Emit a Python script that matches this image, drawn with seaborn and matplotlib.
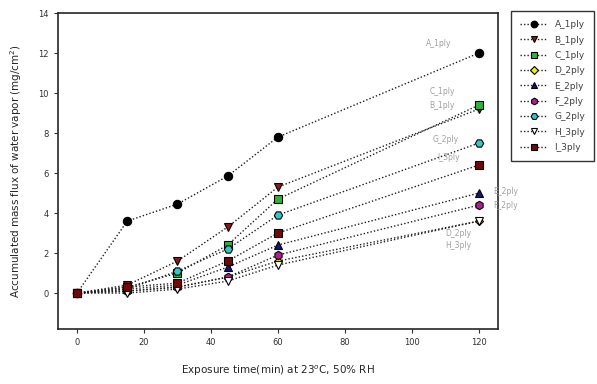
import pandas as pd
import matplotlib
matplotlib.use("Agg")
import matplotlib.pyplot as plt
import seaborn as sns

# exposure times (min)
time_min = [0, 15, 30, 45, 60, 120]

# accumulated mass flux of water vapor (mg/cm2)
a_1ply = [0, 3.6, 4.45, 5.85, 7.8, 12.0]
b_1ply = [0, 0.4, 1.6, 3.3, 5.3, 9.2]
c_1ply = [0, 0.3, 1.0, 2.4, 4.7, 9.4]
d_2ply = [0, 0.1, 0.3, 0.8, 1.6, 3.6]
e_2ply = [0, 0.2, 0.4, 1.3, 2.4, 5.0]
f_2ply = [0, 0.1, 0.3, 0.8, 1.9, 4.4]
g_2ply = [0, 0.2, 1.1, 2.2, 3.9, 7.5]
h_3ply = [0, 0.0, 0.2, 0.6, 1.4, 3.6]
i_3ply = [0, 0.3, 0.5, 1.6, 3.0, 6.4]

names = ["A_1ply", "B_1ply", "C_1ply", "D_2ply", "E_2ply",
         "F_2ply", "G_2ply", "H_3ply", "I_3ply"]
series = [a_1ply, b_1ply, c_1ply, d_2ply, e_2ply, f_2ply, g_2ply, h_3ply, i_3ply]
colors = ["#000000", "#8b1a1a", "#33b040", "#f0f000", "#14147a",
          "#b0208a", "#30c8c8", "#ffffff", "#6e0a0a"]
markers = ["o", "v", "s", "D", "^", "h", "H", "v", "s"]
sizes = [6, 6, 6, 4.5, 6, 6, 6, 6, 6]

# labels next to line ends: (x, y) in data units
label_pos = {
    "A_1ply": (108, 12.5), "C_1ply": (109, 10.1), "B_1ply": (109, 9.4),
    "G_2ply": (110, 7.7), "I_3ply": (111, 6.8), "E_2ply": (128, 5.1),
    "F_2ply": (128, 4.4), "D_2ply": (114, 3.0), "H_3ply": (114, 2.4),
}

rows = []
for n, vals in zip(names, series):
    for t, v in zip(time_min, vals):
        rows.append({"time": t, "flux": v, "sample": n})
df = pd.DataFrame(rows)

sns.set_style("ticks")
fig = plt.figure(figsize=(5.97, 3.84), dpi=100)
ax = fig.add_axes([0.097, 0.143, 0.737, 0.823])

for n, c, m, ms in zip(names, colors, markers, sizes):
    sub = df[df["sample"] == n]
    sns.lineplot(data=sub, x="time", y="flux", ax=ax, color="#202020",
                 linestyle=(0, (1, 1.5)), linewidth=1.0, marker=m, markersize=ms,
                 markerfacecolor=c, markeredgecolor="black", markeredgewidth=0.8,
                 label=n)

for n, (x, y) in label_pos.items():
    ax.text(x, y, n, fontsize=5.5, color="#a0a0a0", ha="center", va="center",
            clip_on=False)

ax.set_xlim(-5.7, 125.7)
ax.set_ylim(-1.8, 14)
ax.set_xticks(range(0, 121, 20))
ax.set_yticks(range(0, 15, 2))
ax.tick_params(direction="out", length=3, labelsize=6, colors="#303030")
for s in ax.spines.values():
    s.set_linewidth(1.2)
ax.set_xlabel("Exposure time(min) at 23$^{o}$C, 50% RH", fontsize=7.5, labelpad=12)
ax.set_ylabel("Accumulated mass flux of water vapor (mg/cm$^{2}$)", fontsize=7.5,
              labelpad=10)

leg = ax.legend(loc="upper left", bbox_to_anchor=(1.02, 1.02), fontsize=6.5,
                frameon=True, fancybox=False, edgecolor="black",
                handlelength=3.0, labelspacing=0.7, borderpad=1.0,
                markerscale=0.8)
leg.get_frame().set_linewidth(1.0)
for t in leg.get_texts():
    t.set_color("#404040")

fig.savefig("out.png", dpi=100)
